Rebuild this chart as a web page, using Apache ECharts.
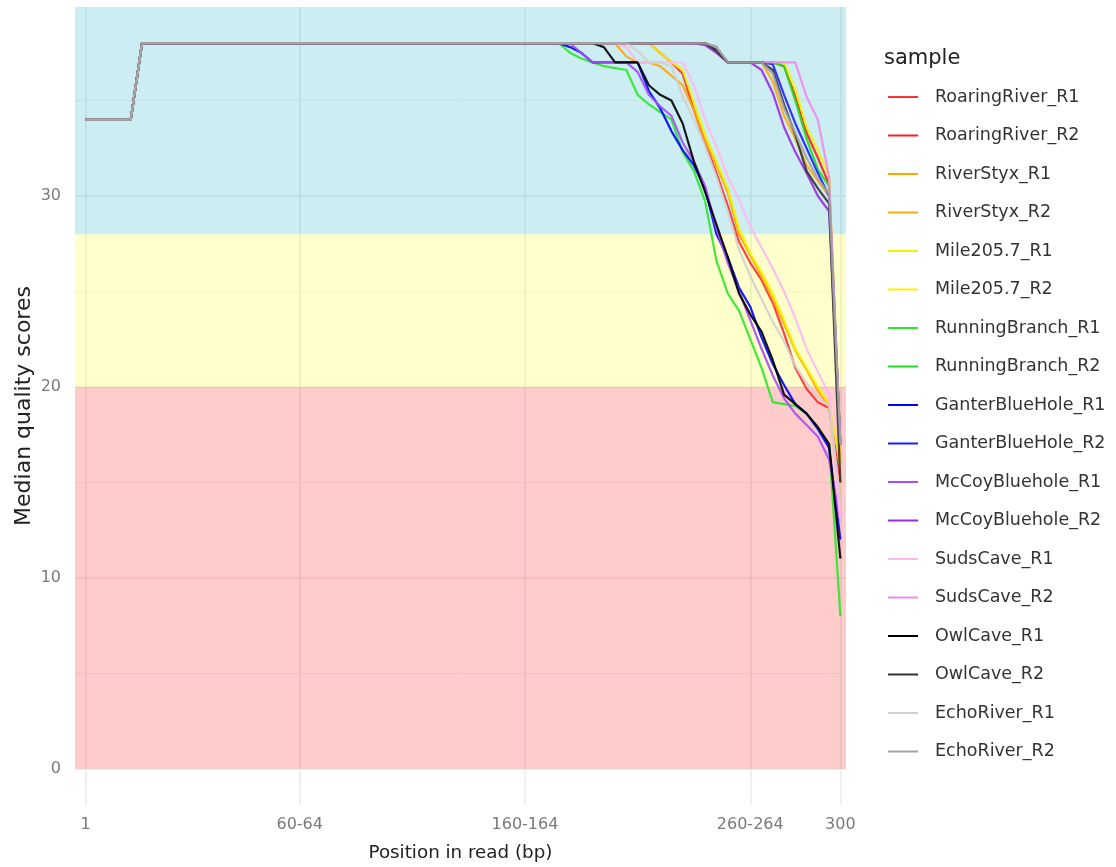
<!DOCTYPE html>
<html>
<head>
<meta charset="utf-8">
<title>Median quality scores</title>
<script src="https://cdn.jsdelivr.net/npm/echarts@6/dist/echarts.min.js"></script>
<style>
  html, body { margin: 0; padding: 0; background: #ffffff; }
  #chart { width: 1116px; height: 867px; }
</style>
</head>
<body>
<div id="chart"></div>
<script>
// Read-position bins (FastQC style: single bases 1-9, then 5-bp groups, then the last base)
const positions = [
  '1','2','3','4','5','6','7','8','9','10-14',
  '15-19','20-24','25-29','30-34','35-39','40-44','45-49','50-54','55-59','60-64',
  '65-69','70-74','75-79','80-84','85-89','90-94','95-99','100-104','105-109','110-114',
  '115-119','120-124','125-129','130-134','135-139','140-144','145-149','150-154','155-159','160-164',
  '165-169','170-174','175-179','180-184','185-189','190-194','195-199','200-204','205-209','210-214',
  '215-219','220-224','225-229','230-234','235-239','240-244','245-249','250-254','255-259','260-264',
  '265-269','270-274','275-279','280-284','285-289','290-294','295-299','300'
];

// Bins that carry an x tick label
const xTickIndex = [0, 19, 39, 59, 67];
// y tick values (major) and minor grid values
const yTicks = [0, 10, 20, 30];
const yMinor = [5, 15, 25, 35];

// Quality zones: poor (<20), reasonable (20-28), good (>=28)
const zoneBounds = [0, 20, 28];

const sampleNames = [
  'RoaringRiver_R1', 'RoaringRiver_R2', 'RiverStyx_R1', 'RiverStyx_R2',
  'Mile205.7_R1', 'Mile205.7_R2', 'RunningBranch_R1', 'RunningBranch_R2',
  'GanterBlueHole_R1', 'GanterBlueHole_R2', 'McCoyBluehole_R1', 'McCoyBluehole_R2',
  'SudsCave_R1', 'SudsCave_R2', 'OwlCave_R1', 'OwlCave_R2',
  'EchoRiver_R1', 'EchoRiver_R2'
];

const sampleColors = [
  '#FF2E2E', '#FF1A1A', '#FFA500', '#FFAA10',
  '#F2F200', '#FFF000', '#2EE62E', '#22DD22',
  '#0000FF', '#1E1EFF', '#A64DF5', '#9A2BE2',
  '#FFB8F2', '#EE88E8', '#000000', '#333333',
  '#D0D0D0', '#A3A3A3'
];

// Median quality per bin, one array per sample
const RoaringRiver_R1 = [
  34,34,34,34,34,38,38,38,38,38,
  38,38,38,38,38,38,38,38,38,38,
  38,38,38,38,38,38,38,38,38,38,
  38,38,38,38,38,38,38,38,38,38,
  38,38,38,38,38,38,38,38,38,38,
  38,37.5,37,36.4,34.5,32.8,31.2,29.5,27.6,26.5,
  25.6,24.4,22.8,21.0,19.9,19.2,18.9,15
];
const RoaringRiver_R2 = [
  34,34,34,34,34,38,38,38,38,38,
  38,38,38,38,38,38,38,38,38,38,
  38,38,38,38,38,38,38,38,38,38,
  38,38,38,38,38,38,38,38,38,38,
  38,38,38,38,38,38,38,38,38,38,
  38,38,38,38,38,38,37.8,37,37,37,
  37,37,36.8,35.2,33.3,32.0,30.6,17
];
const RiverStyx_R1 = [
  34,34,34,34,34,38,38,38,38,38,
  38,38,38,38,38,38,38,38,38,38,
  38,38,38,38,38,38,38,38,38,38,
  38,38,38,38,38,38,38,38,38,38,
  38,38,38,38,38,38,38,38,37.3,37,
  37,36.8,36.3,35.8,34.5,32.9,31.6,30.2,28.0,26.9,
  25.8,24.6,23.3,21.9,20.9,19.8,19.0,14
];
const RiverStyx_R2 = [
  34,34,34,34,34,38,38,38,38,38,
  38,38,38,38,38,38,38,38,38,38,
  38,38,38,38,38,38,38,38,38,38,
  38,38,38,38,38,38,38,38,38,38,
  38,38,38,38,38,38,38,38,38,38,
  38,38,38,38,38,38,37.6,37,37,37,
  37,36,34.2,33.0,31.6,30.8,30.0,16
];
const Mile205_7_R1 = [
  34,34,34,34,34,38,38,38,38,38,
  38,38,38,38,38,38,38,38,38,38,
  38,38,38,38,38,38,38,38,38,38,
  38,38,38,38,38,38,38,38,38,38,
  38,38,38,38,38,38,38,38,38,38,
  38,37.5,37,36.6,34.9,33.2,31.8,30.4,28.3,27.0,
  26.0,24.9,23.5,22.0,21.0,20.0,19.1,16
];
const Mile205_7_R2 = [
  34,34,34,34,34,38,38,38,38,38,
  38,38,38,38,38,38,38,38,38,38,
  38,38,38,38,38,38,38,38,38,38,
  38,38,38,38,38,38,38,38,38,38,
  38,38,38,38,38,38,38,38,38,38,
  38,38,38,38,38,38,37.8,37,37,37,
  37,37,37,35.6,33.6,32.4,31.0,17
];
const RunningBranch_R1 = [
  34,34,34,34,34,38,38,38,38,38,
  38,38,38,38,38,38,38,38,38,38,
  38,38,38,38,38,38,38,38,38,38,
  38,38,38,38,38,38,38,38,38,38,
  38,38,38,37.5,37.2,37,36.8,36.7,36.6,35.3,
  34.8,34.4,34.0,32.3,31.3,29.7,26.6,24.9,24.0,22.5,
  21.0,19.2,19.1,19.0,18.6,17.8,17.0,8
];
const RunningBranch_R2 = [
  34,34,34,34,34,38,38,38,38,38,
  38,38,38,38,38,38,38,38,38,38,
  38,38,38,38,38,38,38,38,38,38,
  38,38,38,38,38,38,38,38,38,38,
  38,38,38,38,38,38,38,38,38,38,
  38,38,38,38,38,38,37.8,37,37,37,
  37,37,36.8,35.0,33.0,31.4,30.5,17
];
const GanterBlueHole_R1 = [
  34,34,34,34,34,38,38,38,38,38,
  38,38,38,38,38,38,38,38,38,38,
  38,38,38,38,38,38,38,38,38,38,
  38,38,38,38,38,38,38,38,38,38,
  38,38,38,37.8,37.5,37,37,37,37,37,
  35.5,34.6,33.4,32.4,31.6,30.4,28.0,26.8,25.2,24.2,
  22.6,21.2,20.1,19.1,18.6,17.8,16.8,12
];
const GanterBlueHole_R2 = [
  34,34,34,34,34,38,38,38,38,38,
  38,38,38,38,38,38,38,38,38,38,
  38,38,38,38,38,38,38,38,38,38,
  38,38,38,38,38,38,38,38,38,38,
  38,38,38,38,38,38,38,38,38,38,
  38,38,38,38,38,38,37.7,37,37,37,
  37,36.9,35.3,33.8,32.5,31.2,30.0,17
];
const McCoyBluehole_R1 = [
  34,34,34,34,34,38,38,38,38,38,
  38,38,38,38,38,38,38,38,38,38,
  38,38,38,38,38,38,38,38,38,38,
  38,38,38,38,38,38,38,38,38,38,
  38,38,38,38,37.5,37,37,37,37,36.5,
  35.3,34.7,34.2,32.8,31.8,30.5,28.3,26.5,25.0,23.5,
  22.0,20.6,19.4,18.6,18.0,17.4,16.2,13
];
const McCoyBluehole_R2 = [
  34,34,34,34,34,38,38,38,38,38,
  38,38,38,38,38,38,38,38,38,38,
  38,38,38,38,38,38,38,38,38,38,
  38,38,38,38,38,38,38,38,38,38,
  38,38,38,38,38,38,38,38,38,38,
  38,38,38,38,38,37.9,37.5,37,37,37,
  36.6,35.4,33.6,32.3,31.2,30.0,29.2,17
];
const SudsCave_R1 = [
  34,34,34,34,34,38,38,38,38,38,
  38,38,38,38,38,38,38,38,38,38,
  38,38,38,38,38,38,38,38,38,38,
  38,38,38,38,38,38,38,38,38,38,
  38,38,38,38,38,38,38,38,37.8,37,
  37,37,37,37,35.8,34.0,32.6,31.0,29.8,28.4,
  27.3,26.2,25.0,23.6,22.0,20.8,19.6,13
];
const SudsCave_R2 = [
  34,34,34,34,34,38,38,38,38,38,
  38,38,38,38,38,38,38,38,38,38,
  38,38,38,38,38,38,38,38,38,38,
  38,38,38,38,38,38,38,38,38,38,
  38,38,38,38,38,38,38,38,38,38,
  38,38,38,38,38,38,37.8,37,37,37,
  37,37,37,37,35.2,34.0,31.0,17
];
const OwlCave_R1 = [
  34,34,34,34,34,38,38,38,38,38,
  38,38,38,38,38,38,38,38,38,38,
  38,38,38,38,38,38,38,38,38,38,
  38,38,38,38,38,38,38,38,38,38,
  38,38,38,38,38,38,37.8,37,37,37,
  35.8,35.3,35.0,33.8,31.8,30.2,28.5,26.8,24.9,23.8,
  22.9,21.4,19.6,19.1,18.6,17.9,17.0,11
];
const OwlCave_R2 = [
  34,34,34,34,34,38,38,38,38,38,
  38,38,38,38,38,38,38,38,38,38,
  38,38,38,38,38,38,38,38,38,38,
  38,38,38,38,38,38,38,38,38,38,
  38,38,38,38,38,38,38,38,38,38,
  38,38,38,38,38,38,37.6,37,37,37,
  37,36.6,34.8,33.2,31.3,30.4,29.6,15
];
const EchoRiver_R1 = [
  34,34,34,34,34,38,38,38,38,38,
  38,38,38,38,38,38,38,38,38,38,
  38,38,38,38,38,38,38,38,38,38,
  38,38,38,38,38,38,38,38,38,38,
  38,38,38,38,38,38,38,38,38,37.6,
  37,37,36.8,35.2,34.0,32.6,31.0,29.2,27.2,25.8,
  24.6,23.4,22.4,21.1,20.2,19.5,19.0,14
];
const EchoRiver_R2 = [
  34,34,34,34,34,38,38,38,38,38,
  38,38,38,38,38,38,38,38,38,38,
  38,38,38,38,38,38,38,38,38,38,
  38,38,38,38,38,38,38,38,38,38,
  38,38,38,38,38,38,38,38,38,38,
  38,38,38,38,38,38,37.8,37,37,37,
  37,36.4,34.6,33.3,32.0,30.9,30.1,17
];

const sampleValues = [
  RoaringRiver_R1, RoaringRiver_R2, RiverStyx_R1, RiverStyx_R2,
  Mile205_7_R1, Mile205_7_R2, RunningBranch_R1, RunningBranch_R2,
  GanterBlueHole_R1, GanterBlueHole_R2, McCoyBluehole_R1, McCoyBluehole_R2,
  SudsCave_R1, SudsCave_R2, OwlCave_R1, OwlCave_R2,
  EchoRiver_R1, EchoRiver_R2
];

// Axis extents (discrete bins padded on both sides, y padded around 0..38)
const X_MIN = -0.95, X_MAX = 67.5;
const Y_MIN = -1.9, Y_MAX = 39.9;

const zoneColors = ['rgba(255,0,0,0.2)', 'rgba(255,255,0,0.2)', 'rgba(0,170,190,0.2)'];
const zoneEdges = zoneBounds.concat([Y_MAX]);
const zoneAreas = zoneBounds.map((lo, k) => [
  { yAxis: lo, itemStyle: { color: zoneColors[k] } },
  { yAxis: zoneEdges[k + 1] }
]);

const FONT = 'DejaVu Sans';
const chart = echarts.init(document.getElementById('chart'), null, { renderer: 'canvas' });

const lineSeries = sampleNames.map((name, s) => ({
  name: name,
  type: 'line',
  xAxisIndex: 0,
  yAxisIndex: 0,
  data: sampleValues[s].map((v, i) => [i, v]),
  showSymbol: false,
  symbol: 'none',
  z: 3,
  color: sampleColors[s],
  lineStyle: { width: 2.2, color: sampleColors[s], opacity: 0.9 },
  emphasis: { disabled: true }
}));

const option = {
  animation: false,
  backgroundColor: '#ffffff',
  title: {
    text: 'sample',
    left: 884,
    top: 48,
    padding: 0,
    textStyle: { fontFamily: FONT, fontSize: 21, fontWeight: 'normal', color: '#222222' }
  },
  legend: {
    orient: 'vertical',
    left: 883,
    top: 83,
    icon: 'rect',
    itemWidth: 30,
    itemHeight: 2,
    itemGap: 20.5,
    data: sampleNames,
    textStyle: {
      fontFamily: FONT, fontSize: 17.5, color: '#333333',
      lineHeight: 18, padding: [0, 0, 0, 12]
    }
  },
  grid: { left: 75, top: 7, width: 771, height: 798, containLabel: false, outerBoundsMode: 'none' },
  xAxis: [{
    type: 'value',
    min: X_MIN,
    max: X_MAX,
    name: 'Position in read (bp)',
    nameLocation: 'middle',
    nameGap: 39,
    nameMoveOverlap: false,
    nameTextStyle: { fontFamily: FONT, fontSize: 18.3, color: '#222222' },
    axisLine: { show: false },
    axisTick: { show: false, customValues: xTickIndex },
    axisLabel: {
      customValues: xTickIndex,
      margin: 12,
      fontFamily: FONT, fontSize: 16, color: '#7a7a7a',
      formatter: (v) => positions[Math.round(v)]
    },
    splitLine: { show: true, lineStyle: { color: '#EBEBEB', width: 1.6 } }
  }],
  yAxis: [{
    type: 'value',
    min: Y_MIN,
    max: Y_MAX,
    name: 'Median quality scores',
    nameLocation: 'middle',
    nameGap: 40,
    nameMoveOverlap: false,
    nameTextStyle: { fontFamily: FONT, fontSize: 22, color: '#222222' },
    axisLine: { show: false },
    axisTick: { show: false, customValues: yTicks },
    axisLabel: {
      customValues: yTicks,
      margin: 14,
      fontFamily: FONT, fontSize: 16, color: '#7a7a7a'
    },
    splitLine: { show: true, lineStyle: { color: '#EBEBEB', width: 1.6 } }
  }, {
    type: 'value',
    min: Y_MIN,
    max: Y_MAX,
    position: 'left',
    axisLine: { show: false },
    axisTick: { show: false, customValues: yMinor },
    axisLabel: { show: false, customValues: yMinor },
    splitLine: { show: true, lineStyle: { color: '#EFEFEF', width: 0.8 } }
  }],
  series: [{
    name: 'zones',
    type: 'line',
    data: [],
    z: 1,
    silent: true,
    markArea: { silent: true, data: zoneAreas }
  }].concat(lineSeries)
};

chart.setOption(option);
</script>
</body>
</html>
